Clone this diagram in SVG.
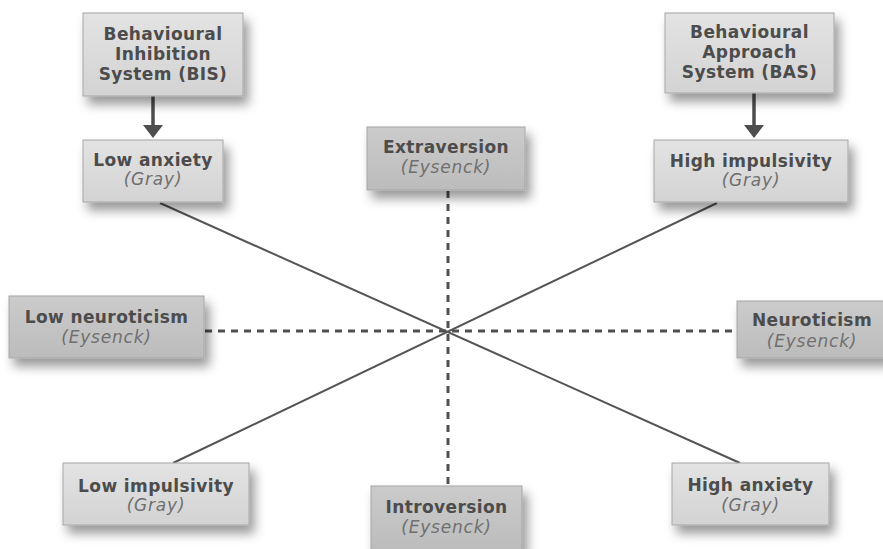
<svg xmlns="http://www.w3.org/2000/svg" width="883" height="549" viewBox="0 0 883 549">
  <defs>
    <linearGradient id="lightFill" x1="0" y1="0" x2="0" y2="1">
      <stop offset="0" stop-color="#e3e3e3"/>
      <stop offset="1" stop-color="#d3d3d3"/>
    </linearGradient>
    <linearGradient id="darkFill" x1="0" y1="0" x2="0" y2="1">
      <stop offset="0" stop-color="#cbcbcb"/>
      <stop offset="1" stop-color="#bcbcbc"/>
    </linearGradient>
    <filter id="shadow" x="-20%" y="-20%" width="150%" height="170%">
      <feDropShadow dx="5" dy="8" stdDeviation="5.5" flood-color="#000" flood-opacity="0.4"/>
    </filter>
    <style>
      .box { stroke: #a6a6a6; stroke-width: 1; filter: url(#shadow); }
      .light { fill: url(#lightFill); }
      .dark { fill: url(#darkFill); }
      .main { font-family: "DejaVu Sans", "Liberation Sans", sans-serif; font-weight: bold; font-size: 17px; letter-spacing: 0.4px; fill: #4c4c4c; text-anchor: middle; }
      .sub { font-family: "DejaVu Sans", "Liberation Sans", sans-serif; font-style: italic; font-size: 17px; letter-spacing: 0.8px; fill: #6f6f6f; text-anchor: middle; }
      .solid { stroke: #545454; stroke-width: 2; fill: none; }
      .dashed { stroke: #505050; stroke-width: 3; stroke-dasharray: 7 6; fill: none; }
      .arrow { stroke: #4d4d4d; stroke-width: 3.5; fill: none; }
      .head { fill: #4d4d4d; }
    </style>
  </defs>

  <rect width="883" height="549" fill="#ffffff"/>

  <!-- connectors -->
  <g id="connectors">
    <line class="solid" x1="160" y1="203" x2="740" y2="463"/>
    <line class="solid" x1="717" y1="203" x2="173" y2="463"/>
    <line class="dashed" x1="448" y1="191" x2="448" y2="486"/>
    <line class="dashed" x1="205" y1="331" x2="737" y2="331"/>
    <line class="arrow" x1="153" y1="96" x2="153" y2="127"/>
    <path class="head" d="M143,125 L163,125 L153,138 Z"/>
    <line class="arrow" x1="754" y1="93" x2="754" y2="127"/>
    <path class="head" d="M744,125 L764,125 L754,138 Z"/>
  </g>

  <!-- Gray: inhibition system -->
  <g id="bis">
    <rect class="box light" x="83" y="13" width="160" height="83"/>
    <text class="main" x="163" y="40">Behavioural</text>
    <text class="main" x="163" y="60">Inhibition</text>
    <text class="main" x="163" y="80">System (BIS)</text>
  </g>

  <!-- Gray: approach system -->
  <g id="bas">
    <rect class="box light" x="665" y="13" width="169" height="80"/>
    <text class="main" x="749.5" y="38">Behavioural</text>
    <text class="main" x="749.5" y="58">Approach</text>
    <text class="main" x="749.5" y="78">System (BAS)</text>
  </g>

  <g id="low-anxiety">
    <rect class="box light" x="83" y="140" width="140" height="62"/>
    <text class="main" x="153" y="166">Low anxiety</text>
    <text class="sub" x="153" y="185">(Gray)</text>
  </g>

  <g id="high-impulsivity">
    <rect class="box light" x="654" y="140" width="194" height="62"/>
    <text class="main" x="751" y="167">High impulsivity</text>
    <text class="sub" x="751" y="186">(Gray)</text>
  </g>

  <g id="extraversion">
    <rect class="box dark" x="367" y="127" width="158" height="63"/>
    <text class="main" x="446" y="153">Extraversion</text>
    <text class="sub" x="446" y="173">(Eysenck)</text>
  </g>

  <g id="low-neuroticism">
    <rect class="box dark" x="9" y="296" width="195" height="62"/>
    <text class="main" x="106.5" y="323">Low neuroticism</text>
    <text class="sub" x="106.5" y="343">(Eysenck)</text>
  </g>

  <g id="neuroticism">
    <rect class="box dark" x="737" y="301" width="150" height="57"/>
    <text class="main" x="812" y="326">Neuroticism</text>
    <text class="sub" x="812" y="347">(Eysenck)</text>
  </g>

  <g id="low-impulsivity">
    <rect class="box light" x="63" y="463" width="186" height="62"/>
    <text class="main" x="156" y="492">Low impulsivity</text>
    <text class="sub" x="156" y="511">(Gray)</text>
  </g>

  <g id="introversion">
    <rect class="box dark" x="371" y="486" width="151" height="64"/>
    <text class="main" x="446.5" y="513">Introversion</text>
    <text class="sub" x="446.5" y="533">(Eysenck)</text>
  </g>

  <g id="high-anxiety">
    <rect class="box light" x="672" y="463" width="157" height="62"/>
    <text class="main" x="750.5" y="491">High anxiety</text>
    <text class="sub" x="750.5" y="511">(Gray)</text>
  </g>
</svg>
